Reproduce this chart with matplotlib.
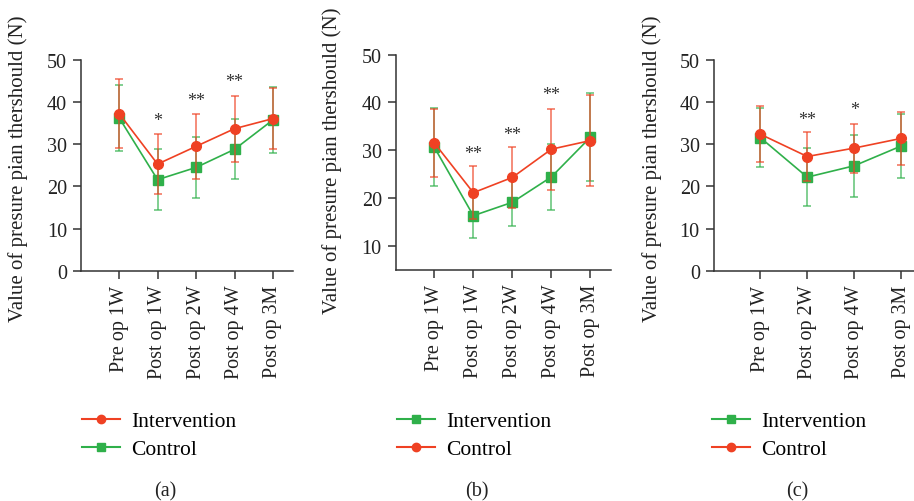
import numpy as np
import matplotlib.pyplot as plt
from matplotlib.lines import Line2D

plt.rcParams['font.family'] = ['Liberation Serif', 'DejaVu Serif']

# panel (a)
labels_a = ['Pre op 1W', 'Post op 1W', 'Post op 2W', 'Post op 4W', 'Post op 3M']
int_a = [37.3, 25.3, 29.5, 33.7, 36.1]
int_a_sd = [8.3, 7.1, 7.7, 7.8, 7.3]
ctl_a = [36.3, 21.6, 24.5, 28.8, 35.8]
ctl_a_sd = [7.8, 7.2, 7.2, 7.1, 7.8]
star_a = ['', '*', '**', '**', '']
star_a_y = [0, 35.7, 40.3, 44.9, 0]

# panel (b)
labels_b = ['Pre op 1W', 'Post op 1W', 'Post op 2W', 'Post op 4W', 'Post op 3M']
int_b = [30.6, 16.3, 19.1, 24.4, 32.7]
int_b_sd = [8.2, 4.7, 5.0, 6.9, 9.2]
ctl_b = [31.5, 21.1, 24.3, 30.2, 32.0]
ctl_b_sd = [7.1, 5.5, 6.3, 8.5, 9.5]
star_b = ['', '**', '**', '**', '']
star_b_y = [0, 29.3, 33.2, 41.7, 0]

# panel (c)
labels_c = ['Pre op 1W', 'Post op 2W', 'Post op 4W', 'Post op 3M']
int_c = [31.6, 22.2, 24.9, 29.6]
int_c_sd = [7.0, 6.8, 7.3, 7.5]
ctl_c = [32.4, 27.1, 29.1, 31.4]
ctl_c_sd = [6.6, 5.8, 5.8, 6.2]
star_c = ['', '**', '*', '']
star_c_y = [0, 35.9, 38.2, 0]

RED = '#ef4123'
GREEN = '#2fb04a'
AX = '#333333'


def draw_panel(ax, labels, green, green_sd, red, red_sd, stars, stars_y, ylim, yticks):
    x = np.arange(len(labels))
    for vals, sd, col, mk, ms, z in [(green, green_sd, GREEN, 's', 6.5, 3),
                                     (red, red_sd, RED, 'o', 7, 4)]:
        h = ax.errorbar(x, vals, yerr=sd, color=col, marker=mk, ms=ms,
                        lw=1.2, elinewidth=1.2, capsize=3.2, capthick=1.2,
                        ecolor=col, zorder=z)
        for c in list(h[1]) + list(h[2]):
            c.set_alpha(0.7)
    for xi, s, sy in zip(x, stars, stars_y):
        if s:
            ax.text(xi, sy, s, ha='center', va='center', fontsize=13, color=AX)
    ax.set_xlim(-0.99, len(labels) - 0.48)
    ax.set_ylim(*ylim)
    ax.set_yticks(yticks)
    ax.set_xticks(x)
    ax.set_xticklabels(labels, rotation=90)
    for side in ('top', 'right'):
        ax.spines[side].set_visible(False)
    for side in ('left', 'bottom'):
        ax.spines[side].set_color(AX)
        ax.spines[side].set_linewidth(1.1)
    ax.tick_params(colors=AX, labelcolor='#222222', labelsize=14.5,
                   length=6, width=1.1, pad=4)
    ax.set_ylabel('Value of presure pian thershould (N)', fontsize=15,
                  color='#222222')


def add_legend(fig, x0, first, second):
    handles = []
    for col, mk, ms in (first, second):
        handles.append(Line2D([], [], color=col, lw=1.5, marker=mk, ms=ms,
                              markeredgecolor=col, alpha=1.0))
    fig.legend(handles, ['Intervention', 'Control'], loc='upper left',
               bbox_to_anchor=(x0 / 914, 1 - 412 / 502), frameon=False,
               fontsize=15.5, handlelength=1.75, handletextpad=0.55,
               labelspacing=0.38, borderpad=0, borderaxespad=0)


fig = plt.figure(figsize=(9.14, 5.02), dpi=100)

ax_a = fig.add_axes([81 / 914, 1 - 271.7 / 502, 212 / 914, 210.7 / 502])
ax_b = fig.add_axes([395.7 / 914, 1 - 270.7 / 502, 215 / 914, 215.2 / 502])
ax_c = fig.add_axes([713.7 / 914, 1 - 271.7 / 502, 212 / 914, 210.7 / 502])

draw_panel(ax_a, labels_a, ctl_a, ctl_a_sd, int_a, int_a_sd,
           star_a, star_a_y, (0, 50), [0, 10, 20, 30, 40, 50])
ax_a.yaxis.set_label_coords(-(81 - 28) / 212, 0.49)
add_legend(fig, 82, (RED, 'o', 6), (GREEN, 's', 6))

draw_panel(ax_b, labels_b, int_b, int_b_sd, ctl_b, ctl_b_sd,
           star_b, star_b_y, (5, 50), [10, 20, 30, 40, 50])
ax_b.yaxis.set_label_coords(-(395.7 - 342) / 215, 0.51)
add_legend(fig, 397, (GREEN, 's', 6), (RED, 'o', 6))

draw_panel(ax_c, labels_c, int_c, int_c_sd, ctl_c, ctl_c_sd,
           star_c, star_c_y, (0, 50), [0, 10, 20, 30, 40, 50])
ax_c.yaxis.set_label_coords(-(713.7 - 662) / 212, 0.49)
add_legend(fig, 712, (GREEN, 's', 6), (RED, 'o', 6))

for cx, cap in [(165, '(a)'), (477, '(b)'), (797, '(c)')]:
    fig.text(cx / 914, 1 - 492 / 502, cap, ha='center', va='center',
             fontsize=14.5, color='#222222')

fig.savefig('out.png', dpi=100)
